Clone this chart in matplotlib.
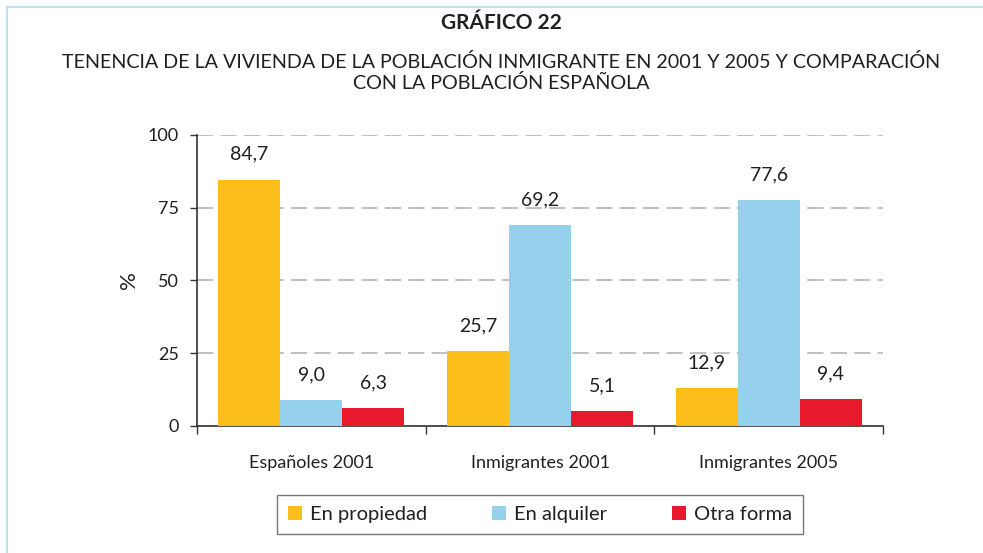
import matplotlib.pyplot as plt
from matplotlib.lines import Line2D
import numpy as np

# --- Datos ---
grupos = ["Españoles 2001", "Inmigrantes 2001", "Inmigrantes 2005"]
series = ["En propiedad", "En alquiler", "Otra forma"]
en_propiedad = [84.7, 25.7, 12.9]
en_alquiler = [9.0, 69.2, 77.6]
otra_forma = [6.3, 5.1, 9.4]
valores = [en_propiedad, en_alquiler, otra_forma]
colores = ["#FCBE1A", "#95D0EC", "#E8192C"]
ticks_y = [0, 25, 50, 75, 100]

plt.rcParams['font.family'] = ['Lato', 'DejaVu Sans']
texto = "#231F20"

fig = plt.figure(figsize=(9.83, 5.53), dpi=100)
ax = fig.add_axes([0.2004, 0.2297, 0.6979, 0.5262])

x = np.arange(len(grupos)) + 0.5
ancho = 0.271
for i, (nombre, vals, col) in enumerate(zip(series, valores, colores)):
    pos = x + (i - 1) * ancho
    ax.bar(pos, vals, width=ancho, color=col, label=nombre, zorder=3)
    for xp, v in zip(pos, vals):
        ax.annotate(f"{v:.1f}".replace(".", ","), (xp, v), xytext=(0, 12),
                    textcoords="offset points", ha="center", va="bottom",
                    fontsize=14, color=texto)

ax.set_xlim(0, 3)
ax.set_ylim(0, 100)
ax.set_yticks(ticks_y)
ax.set_xticks([0, 1, 2, 3])
ax.set_xticklabels([])
ax.set_xticks(x, minor=True)
ax.set_xticklabels(grupos, minor=True, fontsize=13, color=texto)
ax.tick_params(axis="x", which="minor", length=0, pad=21)
ax.tick_params(axis="x", which="major", length=6, width=1, color="#333333")
ax.tick_params(axis="y", length=5, width=1, color="#333333", labelsize=13,
               labelcolor=texto, pad=8)
ax.yaxis.grid(True, color="#BBBBBB", linestyle=(0, (9, 4)), linewidth=1.3, zorder=0)
for s in ["top", "right"]:
    ax.spines[s].set_visible(False)
for s in ["left", "bottom"]:
    ax.spines[s].set_color("#333333")
    ax.spines[s].set_linewidth(1.2)
ax.set_ylabel("%", fontsize=16, color=texto, labelpad=6)

# Leyenda
ley = ax.legend(loc="center", bbox_to_anchor=(0.5, -0.305), ncol=3, frameon=True,
                fancybox=False, edgecolor="#555555", fontsize=14.5, handlelength=0.7,
                handleheight=0.7, handletextpad=0.4, columnspacing=3.2,
                borderpad=0.55)
ley.get_frame().set_linewidth(1.0)
for t in ley.get_texts():
    t.set_color(texto)

# Títulos
fig.text(0.51, 0.958, "GRÁFICO 22", ha="center", va="center", fontsize=15,
         fontweight="bold", color=texto)
fig.text(0.51, 0.868, "TENENCIA DE LA VIVIENDA DE LA POBLACIÓN INMIGRANTE EN 2001 Y 2005 Y COMPARACIÓN\nCON LA POBLACIÓN ESPAÑOLA",
         ha="center", va="center", fontsize=14.2, color=texto, linespacing=1.2)

# Marco azul claro
fig.add_artist(Line2D([0.007, 1.0], [0.987, 0.987], color="#B8E2F6", lw=1.5))
fig.add_artist(Line2D([0.007, 0.007], [0.0, 0.987], color="#B8E2F6", lw=1.5))

fig.savefig("out.png", dpi=100)
